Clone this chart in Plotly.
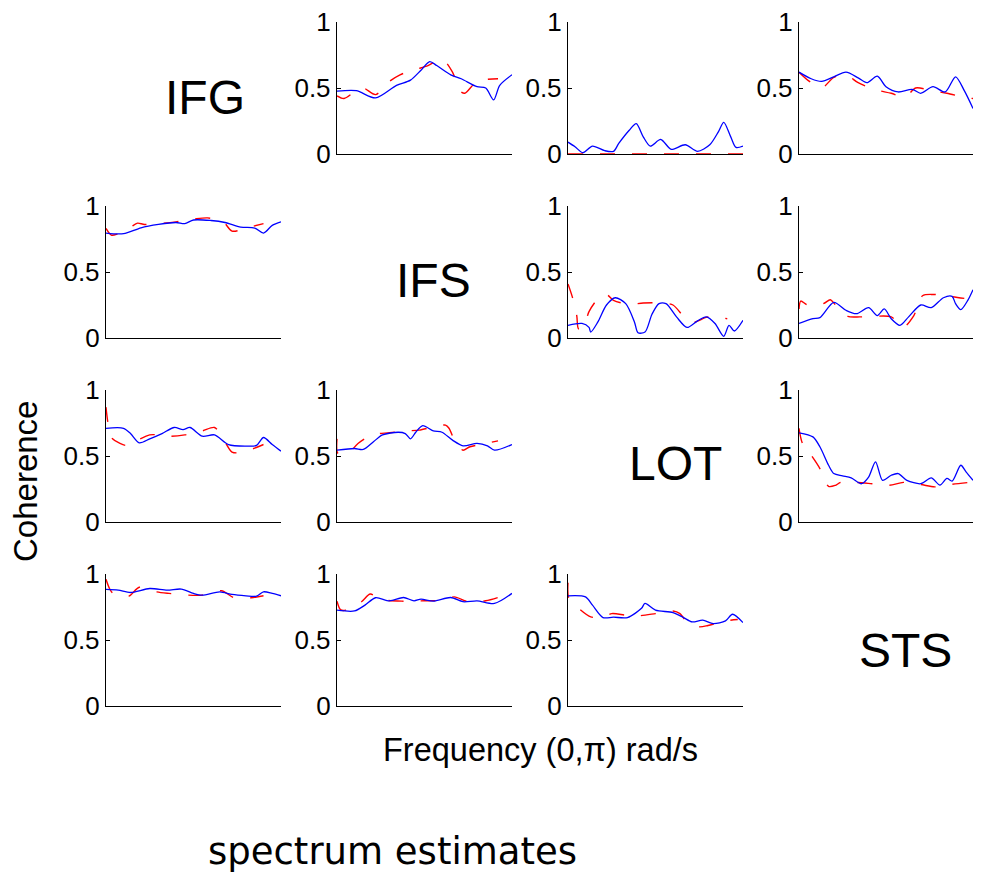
import plotly.graph_objects as go

# page window is 982x875; the body margin is removed by a post script
W, H = 982, 875
OFF = 0

region_names = ["IFG", "IFS", "LOT", "STS"]
tick_vals = [0, 0.5, 1]
tick_text = ["0", "0.5", "1"]

# ---- row 1 (IFG) ----
b12_x = [0, 0.11, 0.22, 0.34, 0.42, 0.48, 0.53, 0.57, 0.65, 0.71, 0.80, 0.85, 0.895, 0.93, 1.0]
b12_y = [0.476, 0.48, 0.425, 0.52, 0.56, 0.635, 0.70, 0.67, 0.60, 0.57, 0.51, 0.50, 0.41, 0.52, 0.60]
r12_x = [0, 0.04, 0.10, 0.15, 0.22, 0.30, 0.36, 0.45, 0.52, 0.60, 0.66, 0.70, 0.73, 0.80, 0.92]
r12_y = [0.44, 0.42, 0.47, 0.50, 0.45, 0.55, 0.60, 0.64, 0.67, 0.72, 0.62, 0.48, 0.46, 0.55, 0.57]

b13_x = [0, 0.04, 0.085, 0.14, 0.21, 0.26, 0.29, 0.35, 0.39, 0.43, 0.47, 0.53, 0.59, 0.67, 0.74, 0.81, 0.86, 0.89, 0.93, 0.96, 1.0]
b13_y = [0.09, 0.055, 0.01, 0.06, 0.025, 0.02, 0.08, 0.18, 0.23, 0.13, 0.06, 0.11, 0.035, 0.07, 0.02, 0.07, 0.17, 0.24, 0.13, 0.05, 0.06]
r13_x = [0, 1.0]
r13_y = [0, 0]

b14_x = [0, 0.07, 0.13, 0.20, 0.27, 0.34, 0.39, 0.45, 0.50, 0.57, 0.65, 0.70, 0.77, 0.84, 0.90, 0.95, 1.0]
b14_y = [0.62, 0.57, 0.55, 0.585, 0.62, 0.577, 0.54, 0.59, 0.51, 0.47, 0.49, 0.46, 0.51, 0.47, 0.585, 0.48, 0.345]
r14_x = [0, 0.06, 0.13, 0.20, 0.27, 0.34, 0.43, 0.53, 0.61, 0.67, 0.76, 0.85, 0.95, 1.0]
r14_y = [0.62, 0.55, 0.50, 0.58, 0.60, 0.54, 0.49, 0.46, 0.43, 0.50, 0.48, 0.46, 0.43, 0.42]

# ---- row 2 (IFS) ----
b21_x = [0, 0.10, 0.20, 0.30, 0.40, 0.45, 0.50, 0.60, 0.68, 0.77, 0.85, 0.90, 0.95, 1.0]
b21_y = [0.795, 0.79, 0.835, 0.86, 0.875, 0.866, 0.894, 0.89, 0.875, 0.84, 0.833, 0.795, 0.853, 0.88]
r21_x = [0, 0.03, 0.06, 0.14, 0.18, 0.22, 0.33, 0.40, 0.50, 0.58, 0.67, 0.72, 0.82, 0.90]
r21_y = [0.83, 0.78, 0.785, 0.84, 0.87, 0.86, 0.87, 0.88, 0.90, 0.91, 0.88, 0.81, 0.84, 0.866]

b23_x = [0, 0.08, 0.12, 0.13, 0.17, 0.22, 0.27, 0.33, 0.38, 0.40, 0.44, 0.48, 0.52, 0.56, 0.62, 0.68, 0.74, 0.79, 0.84, 0.89, 0.92, 0.95, 1.0]
b23_y = [0.096, 0.11, 0.08, 0.045, 0.12, 0.25, 0.305, 0.26, 0.12, 0.04, 0.045, 0.18, 0.26, 0.26, 0.16, 0.08, 0.13, 0.16, 0.11, 0.013, 0.096, 0.053, 0.134]
r23_x = [0, 0.025, 0.05, 0.06, 0.09, 0.12, 0.18, 0.22, 0.26, 0.35, 0.43, 0.53, 0.60, 0.67, 0.72, 0.80, 0.91]
r23_y = [0.41, 0.31, 0.17, 0.07, 0.08, 0.20, 0.31, 0.33, 0.285, 0.255, 0.265, 0.265, 0.25, 0.15, 0.12, 0.16, 0.146]

b24_x = [0, 0.08, 0.12, 0.20, 0.27, 0.33, 0.40, 0.45, 0.49, 0.53, 0.58, 0.63, 0.70, 0.76, 0.83, 0.88, 0.90, 0.93, 0.97, 1.0]
b24_y = [0.11, 0.146, 0.154, 0.27, 0.21, 0.184, 0.23, 0.17, 0.22, 0.146, 0.096, 0.16, 0.25, 0.23, 0.305, 0.315, 0.26, 0.215, 0.285, 0.366]
r24_x = [0, 0.01, 0.05, 0.14, 0.18, 0.21, 0.28, 0.35, 0.43, 0.53, 0.60, 0.66, 0.71, 0.77, 0.87, 0.95]
r24_y = [0.22, 0.28, 0.25, 0.26, 0.29, 0.25, 0.164, 0.16, 0.164, 0.16, 0.083, 0.17, 0.32, 0.33, 0.315, 0.30]

# ---- row 3 (LOT) ----
b31_x = [0, 0.10, 0.14, 0.19, 0.25, 0.32, 0.39, 0.44, 0.48, 0.55, 0.62, 0.70, 0.80, 0.86, 0.90, 0.95, 1.0]
b31_y = [0.71, 0.71, 0.67, 0.60, 0.63, 0.67, 0.716, 0.70, 0.716, 0.65, 0.66, 0.587, 0.575, 0.58, 0.64, 0.587, 0.537]
r31_x = [0, 0.01, 0.03, 0.08, 0.12, 0.18, 0.25, 0.30, 0.37, 0.45, 0.55, 0.62, 0.67, 0.72, 0.78, 0.85, 0.90]
r31_y = [0.87, 0.76, 0.64, 0.595, 0.58, 0.62, 0.66, 0.66, 0.65, 0.66, 0.69, 0.716, 0.63, 0.53, 0.527, 0.56, 0.587]

b32_x = [0, 0.10, 0.15, 0.21, 0.26, 0.35, 0.39, 0.42, 0.45, 0.49, 0.55, 0.60, 0.66, 0.72, 0.80, 0.86, 0.90, 1.0]
b32_y = [0.544, 0.557, 0.55, 0.61, 0.66, 0.68, 0.67, 0.63, 0.68, 0.73, 0.69, 0.68, 0.62, 0.577, 0.595, 0.577, 0.544, 0.587]
r32_x = [0, 0.005, 0.06, 0.12, 0.20, 0.30, 0.40, 0.47, 0.55, 0.62, 0.64, 0.68, 0.72, 0.76, 0.85, 0.92]
r32_y = [0.63, 0.52, 0.516, 0.595, 0.66, 0.676, 0.69, 0.696, 0.72, 0.734, 0.71, 0.595, 0.544, 0.57, 0.595, 0.615]

b34_x = [0, 0.08, 0.12, 0.17, 0.20, 0.25, 0.30, 0.36, 0.40, 0.44, 0.48, 0.53, 0.57, 0.62, 0.70, 0.76, 0.81, 0.85, 0.88, 0.93, 0.96, 1.0]
b34_y = [0.676, 0.645, 0.57, 0.43, 0.367, 0.35, 0.334, 0.29, 0.34, 0.456, 0.316, 0.354, 0.367, 0.316, 0.29, 0.334, 0.28, 0.33, 0.31, 0.43, 0.38, 0.316]
r34_x = [0, 0.02, 0.07, 0.12, 0.17, 0.21, 0.24, 0.33, 0.42, 0.52, 0.60, 0.70, 0.78, 0.87, 0.98]
r34_y = [0.71, 0.595, 0.506, 0.405, 0.27, 0.278, 0.30, 0.30, 0.29, 0.278, 0.30, 0.284, 0.266, 0.284, 0.30]

# ---- row 4 (STS) ----
b41_x = [0, 0.07, 0.14, 0.25, 0.35, 0.43, 0.50, 0.55, 0.65, 0.72, 0.80, 0.86, 0.90, 0.95, 1.0]
b41_y = [0.883, 0.878, 0.86, 0.89, 0.878, 0.886, 0.853, 0.84, 0.865, 0.845, 0.835, 0.832, 0.865, 0.853, 0.835]
r41_x = [0, 0.02, 0.04, 0.13, 0.19, 0.29, 0.36, 0.47, 0.55, 0.66, 0.73, 0.83, 0.90]
r41_y = [0.96, 0.89, 0.853, 0.832, 0.90, 0.865, 0.853, 0.84, 0.84, 0.873, 0.822, 0.82, 0.835]

b42_x = [0, 0.10, 0.16, 0.22, 0.30, 0.38, 0.44, 0.48, 0.55, 0.65, 0.72, 0.80, 0.90, 1.0]
b42_y = [0.726, 0.72, 0.764, 0.82, 0.797, 0.822, 0.797, 0.81, 0.794, 0.822, 0.79, 0.797, 0.777, 0.853]
r42_x = [0, 0.02, 0.05, 0.14, 0.19, 0.25, 0.38, 0.50, 0.60, 0.67, 0.75, 0.85, 0.92]
r42_y = [0.794, 0.73, 0.726, 0.79, 0.848, 0.807, 0.794, 0.797, 0.802, 0.827, 0.79, 0.797, 0.822]

b43_x = [0, 0.10, 0.14, 0.20, 0.26, 0.34, 0.42, 0.44, 0.50, 0.60, 0.66, 0.71, 0.77, 0.83, 0.90, 0.94, 1.0]
b43_y = [0.835, 0.827, 0.764, 0.67, 0.673, 0.67, 0.74, 0.777, 0.726, 0.708, 0.67, 0.637, 0.65, 0.624, 0.645, 0.695, 0.632]
r43_x = [0, 0.005, 0.07, 0.13, 0.20, 0.25, 0.33, 0.40, 0.50, 0.60, 0.64, 0.68, 0.75, 0.80, 0.90, 0.97]
r43_y = [0.934, 0.815, 0.73, 0.675, 0.67, 0.70, 0.688, 0.683, 0.70, 0.72, 0.70, 0.637, 0.60, 0.61, 0.645, 0.655]

panels = {
    (1, 2): (b12_x, b12_y, r12_x, r12_y),
    (1, 3): (b13_x, b13_y, r13_x, r13_y),
    (1, 4): (b14_x, b14_y, r14_x, r14_y),
    (2, 1): (b21_x, b21_y, r21_x, r21_y),
    (2, 3): (b23_x, b23_y, r23_x, r23_y),
    (2, 4): (b24_x, b24_y, r24_x, r24_y),
    (3, 1): (b31_x, b31_y, r31_x, r31_y),
    (3, 2): (b32_x, b32_y, r32_x, r32_y),
    (3, 4): (b34_x, b34_y, r34_x, r34_y),
    (4, 1): (b41_x, b41_y, r41_x, r41_y),
    (4, 2): (b42_x, b42_y, r42_x, r42_y),
    (4, 3): (b43_x, b43_y, r43_x, r43_y),
}

# screen-pixel layout of the grid
col_px = [(106, 281), (337, 512), (568, 743), (799, 973)]
row_px = [(22, 154), (206, 338), (390, 522), (574, 706)]


def fx(px):
    return (px - OFF) / W


def fy(py):
    return 1 - (py - OFF) / H


fig = go.Figure()
FONT = "Liberation Sans, Arial, Helvetica, sans-serif"

idx = 0
for (r, c), (bx, by, rx, ry) in panels.items():
    idx += 1
    xa = "x" if idx == 1 else f"x{idx}"
    ya = "y" if idx == 1 else f"y{idx}"
    fig.add_trace(go.Scatter(x=rx, y=ry, mode="lines", xaxis=xa, yaxis=ya, cliponaxis=False,
                             line=dict(color="#ff0000", width=1.4, dash="15px,17px", shape="spline", smoothing=0.8),
                             showlegend=False, hoverinfo="skip"))
    fig.add_trace(go.Scatter(x=bx, y=by, mode="lines", xaxis=xa, yaxis=ya, cliponaxis=False,
                             line=dict(color="#0000ff", width=1.3, shape="spline", smoothing=0.8),
                             showlegend=False, hoverinfo="skip"))
    x0, x1 = col_px[c - 1]
    y0, y1 = row_px[r - 1]
    xkey = "xaxis" if idx == 1 else f"xaxis{idx}"
    ykey = "yaxis" if idx == 1 else f"yaxis{idx}"
    fig.layout[xkey] = dict(domain=[fx(x0), fx(x1)], range=[0, 1], anchor=ya, automargin=False,
                            showline=True, linecolor="black", linewidth=1.2, layer="below traces",
                            showgrid=False, zeroline=False, showticklabels=False, ticks="")
    fig.layout[ykey] = dict(domain=[fy(y1), fy(y0)], range=[0, 1], anchor=xa, automargin=False,
                            showline=True, linecolor="black", linewidth=1.2, layer="below traces",
                            showgrid=False, zeroline=False, ticks="inside", ticklen=4,
                            tickcolor="black", tickvals=tick_vals, ticktext=tick_text,
                            tickfont=dict(family=FONT, size=26, color="black"),
                            ticklabelstandoff=0, ticklabeloverflow="allow")

annotations = []
diag_pos = [(205, 97), (433, 280), (675, 463), (905, 650)]
for name, (px, py) in zip(region_names, diag_pos):
    annotations.append(dict(text=name, x=fx(px), y=fy(py), xref="paper", yref="paper",
                            showarrow=False, xanchor="center", yanchor="middle",
                            font=dict(family=FONT, size=48, color="black")))
annotations.append(dict(text="Coherence", x=fx(26), y=fy(482), xref="paper", yref="paper",
                        showarrow=False, textangle=-90, xanchor="center", yanchor="middle",
                        font=dict(family=FONT, size=33, color="black")))
annotations.append(dict(text="Frequency (0,π) rad/s", x=fx(540), y=fy(750), xref="paper", yref="paper",
                        showarrow=False, xanchor="center", yanchor="middle",
                        font=dict(family=FONT, size=32.5, color="black")))
annotations.append(dict(text="spectrum estimates", x=fx(392), y=fy(851), xref="paper", yref="paper",
                        showarrow=False, xanchor="center", yanchor="middle",
                        font=dict(family="DejaVu Sans", size=37, color="black")))

fig.update_layout(width=W, height=H, margin=dict(l=0, r=0, t=0, b=0, pad=0, autoexpand=False),
                  paper_bgcolor="white", plot_bgcolor="white",
                  annotations=annotations, showlegend=False, hovermode=False)

fig.write_html("out.html", config={"displayModeBar": False, "staticPlot": True},
               post_script="document.body.style.margin='0';document.body.style.overflow='hidden';")
